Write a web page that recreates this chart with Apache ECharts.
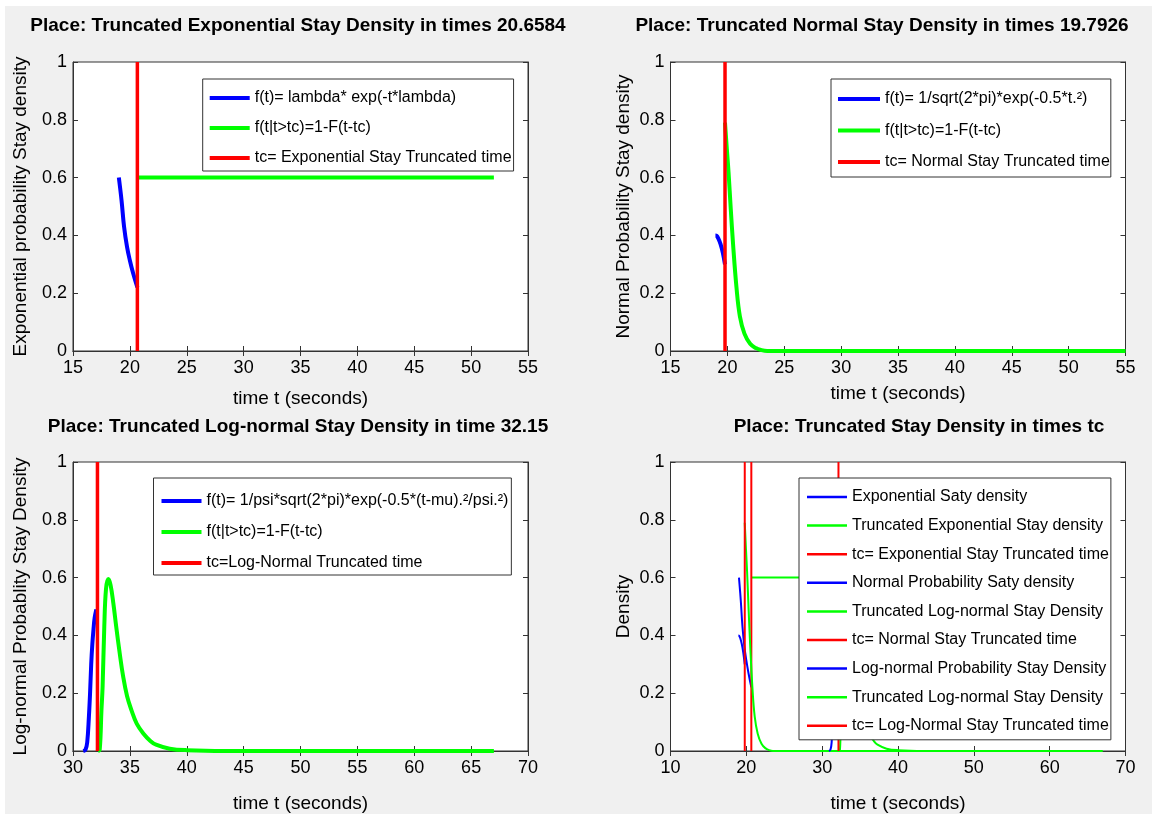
<!DOCTYPE html>
<html><head><meta charset="utf-8">
<script src="https://cdn.jsdelivr.net/npm/echarts@6/dist/echarts.min.js"></script>
<style>
html,body{margin:0;padding:0;background:#fff;}
#bg{position:absolute;left:5px;top:6px;width:1147px;height:808px;background:#f0f0f0;}
#c{position:absolute;left:0;top:0;width:1152px;height:814px;}
</style></head>
<body><div id="bg"></div><div id="c"></div>
<script>
// ---- data ----
const expTc = 20.6584;
const normTc = 19.7926;
const logTc = 32.15;

const expT = [19.03, 19.27, 19.49, 19.75, 19.99, 20.28, 20.66];
const expV = [0.60, 0.52, 0.43, 0.36, 0.315, 0.27, 0.22];
const expTruncT = [20.66, 52.0];
const expTruncV = [0.6, 0.6];

const normT = [18.95, 19.05, 19.2, 19.4, 19.6, 19.79];
const normV = [0.40, 0.399, 0.39, 0.37, 0.34, 0.30];
const normTruncT = [19.79, 19.95, 20.1, 20.3, 20.5, 20.8, 21.1, 21.5, 22.0, 22.5, 23.0, 23.5, 55];
const normTruncV = [0.79, 0.70, 0.62, 0.49, 0.37, 0.22, 0.12, 0.06, 0.025, 0.01, 0.003, 0, 0];

const logT = [30.9, 31.1, 31.25, 31.4, 31.5, 31.6, 31.7, 31.8, 31.9, 32.05];
const logV = [0, 0.005, 0.03, 0.12, 0.2, 0.3, 0.37, 0.42, 0.46, 0.49];
const logTruncT = [32.2, 32.35, 32.5, 32.6, 32.75, 32.9, 33.1, 33.3, 33.55, 33.8, 34.1, 34.4, 34.75, 35.15, 35.6, 36.2, 36.8, 37.3, 38.5, 40, 45, 67];
const logTruncV = [0, 0.005, 0.14, 0.22, 0.43, 0.56, 0.595, 0.575, 0.51, 0.43, 0.34, 0.26, 0.19, 0.14, 0.095, 0.06, 0.035, 0.022, 0.008, 0.003, 0, 0];

const vLineV = [0, 1];

const titles = [
  'Place: Truncated Exponential Stay Density in times 20.6584',
  'Place: Truncated Normal Stay Density in times 19.7926',
  'Place: Truncated Log-normal Stay Density in time 32.15',
  'Place: Truncated Stay Density in times tc'
];
const yNames = ['Exponential probability Stay density', 'Normal Probability Stay density', 'Log-normal Probablity Stay Density', 'Density'];
const xName = 'time t (seconds)';
const xRanges = [[15, 55, 5], [15, 55, 5], [30, 70, 5], [10, 70, 10]];

const names1 = ['f(t)= lambda* exp(-t*lambda)', 'f(t|t>tc)=1-F(t-tc)', 'tc= Exponential Stay Truncated time'];
const names2 = ['f(t)= 1/sqrt(2*pi)*exp(-0.5*t.²)', 'f(t|t>tc)=1-F(t-tc)', 'tc= Normal Stay Truncated time'];
const names3 = ['f(t)= 1/psi*sqrt(2*pi)*exp(-0.5*(t-mu).²/psi.²)', 'f(t|t>tc)=1-F(t-tc)', 'tc=Log-Normal Truncated time'];
const names4 = ['Exponential Saty density', 'Truncated Exponential Stay density', 'tc= Exponential Stay Truncated time',
  'Normal Probability Saty density', 'Truncated Log-normal Stay Density', 'tc= Normal Stay Truncated time',
  'Log-normal Probability Stay Density', 'Truncated Log-normal Stay Density ', 'tc= Log-Normal Stay Truncated time'];

// ---- layout ----
const FONT = '"Liberation Sans", Arial, Helvetica, sans-serif';
const BLUE = '#0000ff', GREEN = '#00ff00', RED = '#ff0000';
const grids = [
  {left: 73, top: 62, width: 455, height: 289},
  {left: 670.5, top: 62, width: 455, height: 289},
  {left: 73, top: 462, width: 455, height: 289},
  {left: 670.5, top: 462, width: 455, height: 289}
];
const titlePos = [[298, 26], [882, 26], [298, 427], [919, 427]];
const xNameGap = [38, 33, 43, 43];
const yNameGap = [43, 37, 43, 37];

const xAxes = [], yAxes = [];
grids.forEach((g, i) => {
  const [mn, mx, iv] = xRanges[i];
  const common = {
    type: 'value', gridIndex: i, min: mn, max: mx, interval: iv,
    axisLine: {show: true, lineStyle: {color: '#333', width: 1}},
    axisTick: {show: true, inside: true, length: 5, lineStyle: {color: '#333'}},
    splitLine: {show: false}
  };
  xAxes.push(Object.assign({}, common, {
    position: 'bottom', name: xName, nameLocation: 'middle', nameGap: xNameGap[i],
    nameTextStyle: {fontSize: 19, color: '#000', fontFamily: FONT},
    axisLabel: {show: true, fontSize: 18, color: '#000', fontFamily: FONT, margin: 8, showMinLabel: true, showMaxLabel: true}
  }));
  xAxes.push(Object.assign({}, common, {position: 'top', axisLabel: {show: false}}));
  const ycommon = {
    type: 'value', gridIndex: i, min: 0, max: 1, interval: 0.2,
    axisLine: {show: true, lineStyle: {color: '#333', width: 1}},
    axisTick: {show: true, inside: true, length: 5, lineStyle: {color: '#333'}},
    splitLine: {show: false}
  };
  yAxes.push(Object.assign({}, ycommon, {
    position: 'left', name: yNames[i], nameLocation: 'middle', nameGap: yNameGap[i],
    nameTextStyle: {fontSize: 19, color: '#000', fontFamily: FONT},
    axisLabel: {show: true, fontSize: 18, color: '#000', fontFamily: FONT, margin: 6}
  }));
  yAxes.push(Object.assign({}, ycommon, {position: 'right', axisLabel: {show: false}}));
});

function zip(t, v) { return t.map((x, k) => [x, v[k]]); }
function ser(name, t, v, color, width, gi, smooth) {
  return {
    type: 'line', name: name, xAxisIndex: 2 * gi, yAxisIndex: 2 * gi,
    data: zip(t, v), symbol: 'none', showSymbol: false,
    smooth: smooth ? 0.4 : false,
    lineStyle: {color: color, width: width}, itemStyle: {color: color},
    emphasis: {disabled: true}, animation: false
  };
}
const series = [
  ser(names1[0], expT, expV, BLUE, 4, 0, true),
  ser(names1[1], expTruncT, expTruncV, GREEN, 4, 0, false),
  ser(names1[2], [expTc, expTc], vLineV, RED, 3.5, 0, false),

  ser(names2[0], normT, normV, BLUE, 4, 1, true),
  ser(names2[1], normTruncT, normTruncV, GREEN, 4, 1, true),
  ser(names2[2], [normTc, normTc], vLineV, RED, 3.5, 1, false),

  ser(names3[0], logT, logV, BLUE, 4, 2, true),
  ser(names3[1], logTruncT, logTruncV, GREEN, 4, 2, true),
  ser(names3[2], [logTc, logTc], vLineV, RED, 3.5, 2, false),

  ser(names4[0], expT, expV, BLUE, 2, 3, true),
  ser(names4[1], expTruncT, expTruncV, GREEN, 2, 3, false),
  ser(names4[2], [expTc, expTc], vLineV, RED, 2, 3, false),
  ser(names4[3], normT, normV, BLUE, 2, 3, true),
  ser(names4[4], normTruncT, normTruncV, GREEN, 2, 3, true),
  ser(names4[5], [normTc, normTc], vLineV, RED, 2, 3, false),
  ser(names4[6], logT, logV, BLUE, 2, 3, true),
  ser(names4[7], logTruncT, logTruncV, GREEN, 2, 3, true),
  ser(names4[8], [logTc, logTc], vLineV, RED, 2, 3, false)
];

function legend(names, left, top, padding, itemWidth, gap, lw) {
  return {
    data: names, orient: 'vertical', left: left, top: top, padding: padding,
    icon: 'rect', itemWidth: itemWidth, itemHeight: lw, itemGap: gap, selectedMode: false,
    backgroundColor: '#fff', borderColor: '#333', borderWidth: 1, borderRadius: 0,
    textStyle: {fontSize: 16, color: '#000', fontFamily: FONT}
  };
}
const legends = [
  legend(names1, 202.7, 79, [11, 2, 5, 7], 40, 14, 4),
  legend(names2, 831, 79, [12, 1, 7, 7], 42, 15.5, 4),
  legend(names3, 153.5, 478, [15, 3, 4, 8], 40, 15, 4),
  legend(names4, 799, 478, [11, 2, 6, 8], 40, 12.6, 2.5)
];

const graphic = titles.map((t, i) => ({
  type: 'text', x: titlePos[i][0], y: titlePos[i][1],
  style: {text: t, font: 'bold 19px ' + FONT, fill: '#000',
    align: 'center', verticalAlign: 'middle', textAlign: 'center', textVerticalAlign: 'middle'}
}));

const gridOpts = grids.map(g => Object.assign({show: true, backgroundColor: '#fff', borderColor: '#333', borderWidth: 1}, g));

const chart = echarts.init(document.getElementById('c'), null, {renderer: 'canvas'});
chart.setOption({
  animation: false,
  grid: gridOpts,
  xAxis: xAxes,
  yAxis: yAxes,
  legend: legends,
  graphic: graphic,
  series: series
});
</script></body></html>
